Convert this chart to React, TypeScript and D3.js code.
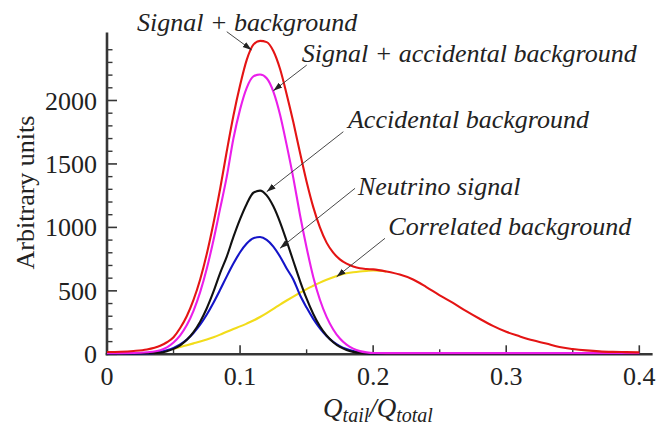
import React from "react";
import * as d3 from "d3";

// Q_tail / Q_total grid
const xGrid = [
  0, 0.01, 0.02, 0.03, 0.04, 0.045, 0.05, 0.055, 0.06, 0.065, 0.07, 0.075, 0.08, 0.085, 0.09, 0.095,
  0.1, 0.105, 0.11, 0.115, 0.12, 0.125, 0.13, 0.135, 0.14, 0.145, 0.15, 0.155, 0.16, 0.165, 0.17,
  0.175, 0.18, 0.185, 0.19, 0.195, 0.2, 0.21, 0.22, 0.23, 0.24, 0.25, 0.26, 0.27, 0.28, 0.29, 0.3,
  0.31, 0.32, 0.33, 0.34, 0.35, 0.36, 0.37, 0.38, 0.39, 0.4,
];

// Neutrino signal
const neutrinoSignal = [
  3, 3, 4, 6, 19, 31, 50, 78, 116, 168, 233, 313, 406, 508, 614, 715,
  804, 873, 915, 924, 902, 849, 771, 676, 590, 467, 368, 279, 205, 145, 99,
  65, 42, 26, 15, 9, 5, 3, 2, 2, 2, 2, 2, 2, 2, 2, 2,
  2, 2, 2, 2, 2, 2, 2, 2, 2, 2,
];

// Accidental background
const accidentalBackground = [
  5, 5, 6, 8, 13, 24, 43, 71, 114, 175, 257, 363, 493, 640, 770, 925,
  1065, 1185, 1273, 1290, 1252, 1166, 1042, 893, 735, 579, 438, 318, 221, 148, 95,
  58, 34, 19, 10, 6, 4, 3, 3, 3, 3, 3, 3, 3, 3, 3, 3,
  3, 3, 3, 3, 3, 3, 3, 3, 3, 3,
];

// Signal + accidental background
const signalAccidental = [
  9, 9, 10, 16, 32, 55, 93, 149, 230, 343, 490, 676, 899, 1148, 1400, 1700,
  1930, 2100, 2190, 2205, 2175, 2070, 1890, 1650, 1390, 1100, 840, 610, 430, 295, 196,
  124, 76, 45, 25, 15, 10, 9, 9, 9, 9, 9, 9, 9, 9, 9, 9,
  9, 9, 9, 9, 9, 9, 9, 9, 9, 9,
];

// Correlated background (visible part, merges into the total above ~0.2)
const xCorrelated = [
  0.05, 0.055, 0.06, 0.065, 0.07, 0.075, 0.08, 0.085, 0.09, 0.095, 0.1, 0.105, 0.11, 0.115, 0.12,
  0.125, 0.13, 0.135, 0.14, 0.145, 0.15, 0.155, 0.16, 0.165, 0.17, 0.175, 0.18, 0.185, 0.19, 0.195,
  0.2, 0.21,
];
const correlatedBackground = [
  42, 58, 72, 86, 100, 116, 134, 155, 178, 200, 220, 242, 266, 294, 325,
  358, 392, 424, 455, 485, 514, 540, 565, 587, 607, 625, 638, 647, 653, 657,
  660, 652,
];

// Signal + background (total)
const signalBackground = [
  18, 20, 26, 38, 68, 95, 135, 207, 302, 429, 590, 792, 1033, 1303, 1600, 1880,
  2120, 2320, 2440, 2470, 2460, 2390, 2250, 2050, 1830, 1590, 1360, 1160, 1000, 880, 801,
  748, 714, 692, 678, 672, 669, 652, 628, 590, 530, 465, 405, 340, 280, 224, 177,
  142, 110, 85, 57, 42, 31, 23, 19, 17, 15,
];

const xMajorTicks = [0, 0.1, 0.2, 0.3, 0.4];
const xTickLabels = ["0", "0.1", "0.2", "0.3", "0.4"];
const xMinorTicks = [0.05, 0.15, 0.25, 0.35];
const yMajorTicks = [0, 500, 1000, 1500, 2000];
const yTickLabels = ["0", "500", "1000", "1500", "2000"];
const yMinorTicks = [100, 200, 300, 400, 600, 700, 800, 900, 1100, 1200, 1300, 1400, 1600, 1700, 1800, 1900, 2100, 2200, 2300, 2400];

const annotationTexts = [
  "Signal + background",
  "Signal + accidental background",
  "Accidental background",
  "Neutrino signal",
  "Correlated background",
];
// text anchor (x, y) and arrow from (x0,y0) to tip (x1,y1), in data units
const annotationTextX = [0.0225, 0.1463, 0.1811, 0.1886, 0.2114];
const annotationTextY = [2548, 2306, 1783, 1259, 940];
const arrowX0 = [0.09, 0.1501, 0.1776, 0.1864, 0.2089];
const arrowY0 = [2542, 2279, 1754, 1308, 914];
const arrowX1 = [0.1087, 0.125, 0.12, 0.13, 0.1726];
const arrowY1 = [2398, 2077, 1281, 835, 611];

const W = 669;
const H = 430;
const FONT = "Liberation Serif, DejaVu Serif, Times New Roman, serif";

export default function App() {
  const x = d3.scaleLinear().domain([0, 0.4]).range([107, 639.3]);
  const y = d3.scaleLinear().domain([0, 2535]).range([354.3, 32.6]);

  const line = d3
    .line<[number, number]>()
    .x((d) => x(d[0]))
    .y((d) => y(d[1]))
    .curve(d3.curveMonotoneX);

  const zip = (xs: number[], ys: number[]) => xs.map((v, i) => [v, ys[i]] as [number, number]);

  const series = [
    { values: zip(xCorrelated, correlatedBackground), color: "#f2dc1a" },
    { values: zip(xGrid, neutrinoSignal), color: "#1414c8" },
    { values: zip(xGrid, accidentalBackground), color: "#111111" },
    { values: zip(xGrid, signalAccidental), color: "#ea1eea" },
    { values: zip(xGrid, signalBackground), color: "#e41414" },
  ];

  const axisColor = "#363636";
  const x0 = x(0);
  const y0 = y(0);
  const textStyle = { fontFamily: FONT };

  return (
    <svg
      width={W}
      height={H}
      viewBox={`0 0 ${W} ${H}`}
      style={{ position: "absolute", left: 0, top: 0, background: "#fff" }}
    >
      <defs>
        <marker
          id="arrowhead"
          markerUnits="userSpaceOnUse"
          markerWidth={10}
          markerHeight={8}
          refX={9}
          refY={4}
          orient="auto"
        >
          <path d="M0,1 L9,4 L0,7 Z" fill="#222" />
        </marker>
      </defs>

      {/* axes */}
      <line x1={x0} y1={y0 + 1} x2={x0} y2={y(2535)} stroke={axisColor} strokeWidth={2.6} />
      <line x1={x0 - 1.3} y1={y0} x2={x(0.41)} y2={y0} stroke={axisColor} strokeWidth={2.6} />

      {yMajorTicks.map((t) => (
        <line key={"ym" + t} x1={x0} x2={x0 + 10} y1={y(t)} y2={y(t)} stroke={axisColor} strokeWidth={1.6} />
      ))}
      {yMinorTicks.map((t) => (
        <line key={"yn" + t} x1={x0} x2={x0 + 5.5} y1={y(t)} y2={y(t)} stroke={axisColor} strokeWidth={1.4} />
      ))}
      {xMajorTicks.map((t) => (
        <line key={"xm" + t} x1={x(t)} x2={x(t)} y1={y0} y2={y0 - 9} stroke={axisColor} strokeWidth={1.6} />
      ))}
      {xMinorTicks.map((t) => (
        <line key={"xn" + t} x1={x(t)} x2={x(t)} y1={y0} y2={y0 - 5} stroke={axisColor} strokeWidth={1.4} />
      ))}

      {yMajorTicks.map((t, i) => (
        <text
          key={"yl" + t}
          x={97}
          y={y(t)}
          dy="0.35em"
          textAnchor="end"
          style={textStyle}
          fontSize={26}
          fill="#222"
        >
          {yTickLabels[i]}
        </text>
      ))}
      {xMajorTicks.map((t, i) => (
        <text
          key={"xl" + t}
          x={x(t)}
          y={385}
          textAnchor="middle"
          style={textStyle}
          fontSize={26}
          fill="#222"
        >
          {xTickLabels[i]}
        </text>
      ))}

      {/* axis titles */}
      <text
        transform={`translate(33.5, 192.5) rotate(-90)`}
        textAnchor="middle"
        style={textStyle}
        fontSize={26}
        fill="#222"
      >
        Arbitrary units
      </text>
      <text x={378} y={417} textAnchor="middle" style={textStyle} fontSize={27} fontStyle="italic" fill="#222">
        Q
        <tspan fontSize={20} dy={5}>tail</tspan>
        <tspan fontSize={27} dy={-5}>/Q</tspan>
        <tspan fontSize={20} dy={5}>total</tspan>
      </text>

      {/* curves */}
      {series.map((s, i) => (
        <path key={"s" + i} d={line(s.values) || ""} fill="none" stroke={s.color} strokeWidth={2.1} />
      ))}

      {/* annotations */}
      {annotationTexts.map((t, i) => (
        <g key={"a" + i}>
          <line
            x1={x(arrowX0[i])}
            y1={y(arrowY0[i])}
            x2={x(arrowX1[i])}
            y2={y(arrowY1[i])}
            stroke="#333"
            strokeWidth={0.9}
            markerEnd="url(#arrowhead)"
          />
          <text
            x={x(annotationTextX[i])}
            y={y(annotationTextY[i])}
            style={textStyle}
            fontSize={26}
            fontStyle="italic"
            fill="#222"
          >
            {t}
          </text>
        </g>
      ))}
    </svg>
  );
}
